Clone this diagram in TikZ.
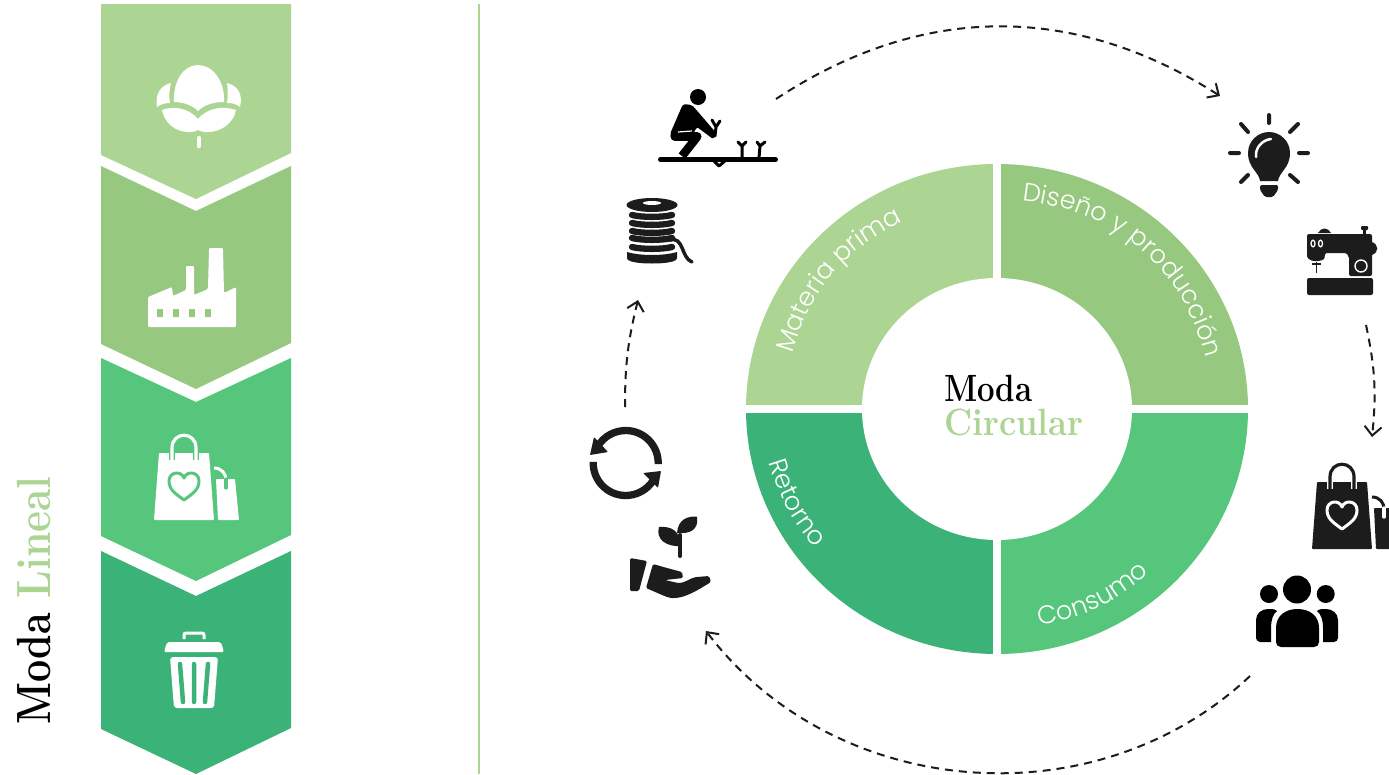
\documentclass[tikz,border=0pt]{standalone}
\usepackage{fontspec}
\usetikzlibrary{arrows.meta,decorations.text}
\newfontfamily\labfont{Poppins Light}
\definecolor{cA}{HTML}{ACD593}
\definecolor{cB}{HTML}{96C87F}
\definecolor{cC}{HTML}{55C67C}
\definecolor{cD}{HTML}{3BB278}
\definecolor{ink}{HTML}{1C1C1C}
\tikzset{
  flow/.style={ink,line width=2pt,dash pattern=on 8pt off 6pt,-{Straight Barb[length=9pt,width=17pt,line width=2pt]}},
  ringlabel/.style={decorate},
  title/.style={inner sep=0pt,font=\fontsize{#1}{#1}\selectfont\bfseries\addfontfeature{FakeBold=0.7}},
  rl/.style={line cap=round,line join=round},
}
\newcommand{\labtext}[1]{|\fontsize{25.5}{25.5}\selectfont\labfont\color{white}|#1}
% shopping bag, drawn at the coordinates of the one in the third chevron
\newcommand{\mybag}[4]{%
\begin{scope}[shift={(#1,#2)}]
  \fill[#3,rounded corners=0.8pt] (159,453) -- (209,453) -- (214,520) -- (154,520) -- cycle;
  \fill[#3,rounded corners=0.8pt] (216,479) -- (235,479) -- (239,520) -- (218,520) -- cycle;
  \draw[#4,line width=6pt] (172,452) -- (172,460) (196,452) -- (196,460);
  \draw[#3,line width=3.2pt,line cap=round] (172,460) -- (172,448) .. controls (172,431) and (196,431) .. (196,448) -- (196,460);
  \draw[#3,line width=3pt] (214,468) .. controls (222,468) and (226,474) .. (226,480);
  \draw[#4,line width=3.2pt,line cap=round] (226,479) -- (226,488);
  \draw[#4,line width=3pt,line join=round] (184,500) .. controls (176,494) and (169,490) .. (169,481) .. controls (169,472) and (181,470) .. (184,478) .. controls (187,470) and (199,472) .. (199,481) .. controls (199,490) and (192,494) .. (184,500) -- cycle;
\end{scope}}
\begin{document}
\begin{tikzpicture}[x=1pt,y=-1pt]
\clip (0,0) rectangle (1389,774);
\fill[white] (0,0) rectangle (1389,774);
% chevrons
\fill[cA] (101,4) -- (291,4) -- (291,153) -- (196,199) -- (101,155) -- cycle;
\fill[cB] (101,166) -- (196,211) -- (291,166) -- (291,343) -- (196,389) -- (101,344) -- cycle;
\fill[cC] (101,358) -- (196,402) -- (291,358) -- (291,535) -- (196,581) -- (101,536) -- cycle;
\fill[cD] (101,551) -- (196,596) -- (291,551) -- (291,728) -- (196,774) -- (101,729) -- cycle;
% separator
\draw[cA,line width=2.5pt] (479,4) -- (479,774);
% cotton
\fill[white] (174,102) .. controls (173,80) and (184,65) .. (198,65) .. controls (212,65) and (225,80) .. (224,102) .. controls (213,102) and (204,105) .. (198,111) .. controls (192,105) and (183,102) .. (174,102) -- cycle;
\fill[white] (171,83) .. controls (160,86) and (155,94) .. (157,107) .. controls (161,104) and (165,103) .. (170,103) .. controls (169,96) and (169,90) .. (171,83) -- cycle;
\fill[white] (227,83) .. controls (238,86) and (243,94) .. (240,107) .. controls (237,104) and (232,103) .. (227,103) .. controls (228,96) and (228,90) .. (227,83) -- cycle;
\fill[white] (162,110) .. controls (172,106) and (188,107) .. (198,119) .. controls (208,107) and (224,106) .. (236,110) .. controls (234,122) and (222,133) .. (205,132) .. controls (202,132) and (200,131) .. (198,130) .. controls (196,131) and (194,132) .. (191,132) .. controls (175,133) and (164,122) .. (162,110) -- cycle;
\draw[white,line width=4.5pt,line cap=round] (199,138) -- (199,146);
% factory
\fill[white,rounded corners=1.2pt] (148,327) -- (148,297) -- (172,287) -- (173,296) -- (186,290) -- (186,266) -- (194,266) -- (194,295) -- (208,289) -- (209,248) -- (223,248) -- (224,293) -- (236,287) -- (236,327) -- cycle;
\foreach \wx in {157,173,189,205} {\fill[cB] (\wx,309) rectangle ++(6,8);}
% bags
\mybag{0}{0}{white}{cC}
\mybag{1158}{29}{ink}{white}
% trash
\fill[white,rounded corners=2pt] (164,652) -- (167,642) -- (221,642) -- (224,652) -- cycle;
\draw[white,line width=3pt,rounded corners=2pt] (184,639) -- (184,633) -- (204,633) -- (204,639);
\fill[white,rounded corners=3pt] (170,657) -- (218,657) -- (214,708) -- (174,708) -- cycle;
\draw[cD,line width=4.5pt,line cap=round] (180,664) -- (183,702) (194,664) -- (194,702) (208,664) -- (205,702);
% title of left column
\node[title=48,anchor=base west,rotate=90] (lineal) at (50,725) {\textcolor{black}{\scalebox{.82}[1]{Moda}}\hspace{15pt}\textcolor{cA}{\scalebox{.85}[1]{Lineal}}};
% ring
\begin{scope}
  \clip (997,409) ellipse[x radius=251,y radius=245];
  \fill[cA] (740,160) rectangle (997,409);
  \fill[cB] (997,160) rectangle (1255,409);
  \fill[cD] (740,409) rectangle (997,660);
  \fill[cC] (997,409) rectangle (1255,660);
\end{scope}
\fill[white] (997,409) ellipse[x radius=135,y radius=131];
\draw[white,line width=8pt] (997,160) -- (997,660) (740,409) -- (1255,409);
% ring labels
\coordinate (m1) at (792,355); \coordinate (m2) at (904,221);
\coordinate (d1) at (1025,201); \coordinate (d2) at (1205,355);
\coordinate (r1) at (768,460); \coordinate (r2) at (817,550);
\coordinate (k1) at (1040,625); \coordinate (k2) at (1149,574);
\path[ringlabel,decoration={text along path,text align=center,text={\labtext{Materia prima}}}] (m1) to[bend left=24] (m2);
\path[ringlabel,decoration={text along path,text align=center,text={\labtext{Diseño y producción}}}] (d1) to[bend left=34] (d2);
\path[ringlabel,decoration={text along path,text align=center,text={\labtext{Retorno}}}] (r1) to[bend right=12] (r2);
\path[ringlabel,decoration={text along path,text align=center,text={\labtext{Consumo}}}] (k1) to[bend right=15] (k2);
% centre title
\node[title=38,anchor=base west,text=black] (moda) at (944,401.5) {\scalebox{.82}[1]{Moda}};
\node[title=38,anchor=base west,text=cA] (circ) at (944,435) {\scalebox{.91}[1]{Circular}};
% arrows
\coordinate (a1) at (776,99); \coordinate (a2) at (1220,96);
\coordinate (b1) at (1366,325); \coordinate (b2) at (1372,437);
\coordinate (c1) at (1250,676); \coordinate (c2) at (706,631);
\coordinate (e1) at (625,407); \coordinate (e2) at (638,300);
\draw[flow] (a1) to[bend left=33] (a2);
\draw[flow] (b1) to[bend left=9] (b2);
\draw[flow] (c1) to[bend left=48] (c2);
\draw[flow] (e1) to[bend left=7] (e2);
% farmer
\fill[black] (698,97) circle[radius=8];
\draw[black,line width=5pt,line cap=round] (660.5,159.5) -- (775.5,159.5);
\draw[black,line width=3pt,line join=round] (713,160) -- (719,166) -- (726,160);
\fill[black,rounded corners=2pt] (683,104) -- (692,105) -- (699,113) -- (717,134) -- (713,139) -- (697,127) -- (693,134) -- (672,140) -- (670,134) -- cycle;
\draw[black,line width=9pt,line cap=round] (675,136.5) -- (697,136.5);
\draw[black,line width=8.5pt,line join=round] (697,137) -- (682,156);
\draw[white,line width=1.2pt] (678,132) -- (692,131);
\draw[black,line width=3pt,rl] (715,136) -- (716,127) -- (712,120) (716,127) -- (720,121);
\draw[black,line width=3pt,rl] (742,158) -- (742,146) -- (738,142) (742,146) -- (746,142);
\draw[black,line width=3pt,rl] (759,158) -- (760,146) -- (757,142) (760,146) -- (765,142);
% spool
\fill[ink] (652,205) ellipse[x radius=25.5,y radius=7];
\fill[white] (652,203) ellipse[x radius=9,y radius=2];
\foreach \sy in {215,223,231,238,247}
  {\draw[ink,line width=6.3pt,line cap=round] (632,\sy) .. controls (642,\sy+2.5) and (662,\sy+2.5) .. (672,\sy);}
\fill[ink] (627,252) .. controls (640,256) and (664,256) .. (677,252) -- (677,258) .. controls (677,262) and (665,263.5) .. (652,263.5) .. controls (639,263.5) and (627,262) .. (627,258) -- cycle;
\draw[ink,line width=3.5pt,line cap=round] (670,240) .. controls (684,236) and (681,258) .. (692,262);
% recycle
\begin{scope}[shift={(625.7,463)},y=1pt]
  \draw[ink,line width=7.3pt] (-2:32.5) arc[start angle=-2,end angle=148,radius=32.5];
  \draw[ink,line width=7.3pt] (178:32.5) arc[start angle=178,end angle=328,radius=32.5];
\end{scope}
\fill[ink,rounded corners=0.8pt] (594,437) -- (590,455) -- (608,452) -- cycle;
\fill[ink,rounded corners=0.8pt] (643,473) -- (661,471) -- (658,488) -- cycle;
% hand with sprout
\draw[ink,line width=4pt,line cap=round] (680,535) -- (680,556);
\fill[ink] (659,527) .. controls (670,526) and (681,530) .. (680,546) .. controls (668,547) and (655,540) .. (659,527) -- cycle;
\fill[ink] (697,516.5) .. controls (688,516) and (678,519) .. (677,533) .. controls (690,534) and (699,530) .. (697,516.5) -- cycle;
\fill[ink,rounded corners=1.5pt] (630,558) -- (647,561) -- (639,591) -- (630,591) -- cycle;
\fill[ink,rounded corners=1.5pt] (653,564) -- (646,588) .. controls (660,594) and (668,598) .. (673,598) .. controls (685,598) and (698,590) .. (711,582) -- (709,576) -- (697,577) .. controls (690,578) and (685,583) .. (678,583) -- (665,580) -- (683,578) -- (682,572) -- (667,568) -- cycle;
% bulb
\fill[ink] (1260,181) .. controls (1259,172) and (1248,168) .. (1248,153) .. controls (1248,141) and (1258,132) .. (1269,132) .. controls (1280,132) and (1290,141) .. (1290,153) .. controls (1290,168) and (1279,172) .. (1278,181) -- cycle;
\fill[ink,rounded corners=1.5pt] (1260,185) -- (1278,185) -- (1278,190) -- (1273,197) -- (1265,197) -- (1260,190) -- cycle;
\draw[white,line width=2.5pt,line cap=round] (1256,157) .. controls (1255,148) and (1262,140) .. (1271,139);
\draw[ink,line width=4pt,line cap=round] (1269,115) -- (1269,123) (1230,153) -- (1239,153) (1299,153) -- (1308,153) (1241,124) -- (1248,132) (1298,124) -- (1290,132) (1241,182) -- (1248,175) (1298,182) -- (1290,175);
% sewing machine
\fill[ink,rounded corners=2pt] (1307,278) rectangle (1373,295);
\fill[ink,rounded corners=2pt] (1307,234) -- (1372,234) -- (1372,276) -- (1349,276) -- (1349,260) .. controls (1349,255) and (1346,253) .. (1343,253) -- (1325,253) -- (1325,256) .. controls (1324,260) and (1320,261) .. (1316,261) .. controls (1312,261) and (1307,259) .. (1307,254) -- cycle;
\fill[ink] (1372,242) .. controls (1379,245) and (1379,252) .. (1372,255) -- cycle;
\fill[ink] (1318,233) .. controls (1321,227) and (1328,227) .. (1331,233) -- cycle;
\fill[ink,rounded corners=1pt] (1361,226) rectangle (1368,230);
\draw[ink,line width=2.5pt] (1364.5,229) -- (1364.5,235);
\draw[ink,line width=1.3pt] (1312,264) -- (1321,264) (1316.5,262) -- (1316.5,273);
\draw[white,line width=1.3pt] (1313,243.5) ellipse[x radius=2,y radius=3.3] (1320.5,243.5) ellipse[x radius=2,y radius=3.3];
\draw[white,line width=1.4pt] (1361,266) circle[radius=6];
% people
\fill[black] (1297,589.5) circle[radius=14] (1269,594) circle[radius=9] (1325.7,594) circle[radius=9];
\fill[black] (1276,628) .. controls (1276,616) and (1285,609) .. (1297.5,609) .. controls (1310,609) and (1319,616) .. (1319,628) -- (1319,642) .. controls (1319,645) and (1317,647) .. (1314,647) -- (1281,647) .. controls (1278,647) and (1276,645) .. (1276,642) -- cycle;
\fill[black] (1256,638) -- (1256,620) .. controls (1256,613) and (1262,609) .. (1268,609) -- (1272,609) .. controls (1274,609) and (1276,610) .. (1277,611) .. controls (1273,614) and (1271,620) .. (1271,628) -- (1271,642) -- (1260,642) .. controls (1258,642) and (1256,640) .. (1256,638) -- cycle;
\fill[black] (1338,638) -- (1338,620) .. controls (1338,613) and (1332,609) .. (1326,609) -- (1322,609) .. controls (1320,609) and (1318,610) .. (1317,611) .. controls (1321,614) and (1323,620) .. (1323,628) -- (1323,642) -- (1334,642) .. controls (1336,642) and (1338,640) .. (1338,638) -- cycle;
\end{tikzpicture}
\end{document}
